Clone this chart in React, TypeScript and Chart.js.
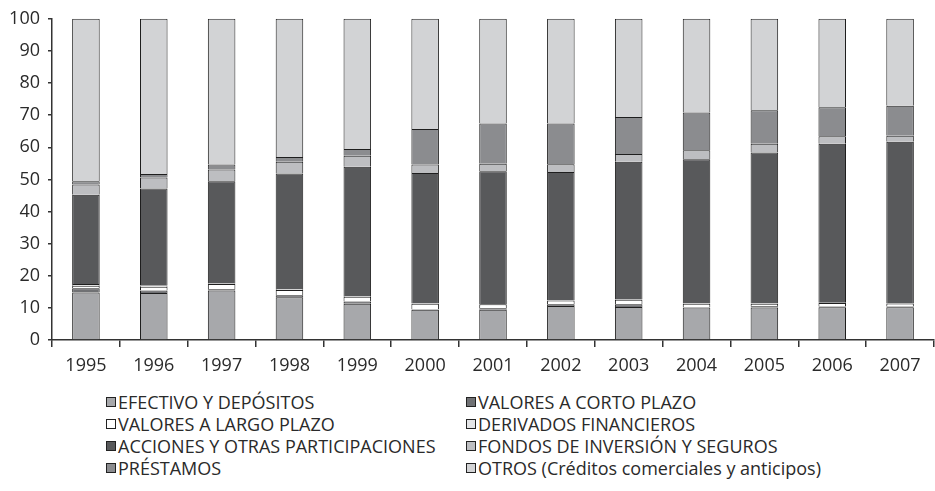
import React, { useEffect, useRef } from "react";
import { Chart, registerables } from "chart.js";

Chart.register(...registerables);

const years = ["1995", "1996", "1997", "1998", "1999", "2000", "2001", "2002", "2003", "2004", "2005", "2006", "2007"];

const efectivo = [14.8, 14.6, 15.4, 13.3, 11.3, 9.4, 9.4, 10.6, 10.3, 10.1, 10.1, 10.2, 10.2];
const valoresCorto = [1.3, 0.8, 0.4, 0.6, 0.7, 0.2, 0.5, 0.5, 0.8, 0.1, 0.4, 0.2, 0.2];
const valoresLargo = [0.8, 1.2, 1.6, 1.7, 1.5, 1.7, 1.2, 1.2, 1.4, 1.1, 0.8, 1.1, 1.0];
const derivados = [0.5, 0.4, 0.2, 0.2, 0.2, 0.1, 0.1, 0.1, 0.1, 0.1, 0.1, 0.1, 0.1];
const acciones = [27.8, 30.2, 31.8, 36.0, 40.2, 40.6, 41.3, 39.9, 42.9, 44.9, 47.0, 49.5, 50.2];
const fondos = [3.2, 3.4, 3.7, 3.7, 3.5, 2.6, 2.4, 2.4, 2.4, 2.8, 2.7, 2.3, 1.9];
const prestamos = [1.0, 1.1, 1.5, 1.5, 2.1, 11.1, 12.5, 12.7, 11.5, 11.7, 10.4, 9.1, 9.3];
const otros = [50.6, 48.3, 45.4, 43.0, 40.5, 34.3, 32.6, 32.6, 30.6, 29.2, 28.5, 27.5, 27.1];

const seriesNames = [
  "EFECTIVO Y DEPÓSITOS",
  "VALORES A CORTO PLAZO",
  "VALORES A LARGO PLAZO",
  "DERIVADOS FINANCIEROS",
  "ACCIONES Y OTRAS PARTICIPACIONES",
  "FONDOS DE INVERSIÓN Y SEGUROS",
  "PRÉSTAMOS",
  "OTROS (Créditos comerciales y anticipos)",
];
const seriesValues = [efectivo, valoresCorto, valoresLargo, derivados, acciones, fondos, prestamos, otros];
const seriesColors = ["#a7a8ab", "#707174", "#ffffff", "#e4e5e7", "#58595b", "#bdbec1", "#8b8c8f", "#d2d3d5"];

const yTicks = [0, 10, 20, 30, 40, 50, 60, 70, 80, 90, 100];

const FONT = "'Open Sans', sans-serif";

export default function App() {
  const ref = useRef<HTMLCanvasElement | null>(null);

  useEffect(() => {
    if (!ref.current) return;
    const chart = new Chart(ref.current, {
      type: "bar",
      data: {
        labels: years,
        datasets: seriesNames.map((name, i) => ({
          label: name,
          data: seriesValues[i],
          backgroundColor: seriesColors[i],
          borderColor: "#1e1e1e",
          borderWidth: 1,
          barPercentage: 0.406,
          categoryPercentage: 1,
        })),
      },
      options: {
        animation: false,
        responsive: false,
        maintainAspectRatio: false,
        layout: { padding: { top: 15, right: 1, left: 0, bottom: 0 } },
        plugins: {
          legend: { display: false },
          tooltip: { enabled: false },
        },
        scales: {
          x: {
            stacked: true,
            grid: {
              offset: true,
              drawOnChartArea: false,
              drawTicks: true,
              tickLength: 7,
              color: "#333",
              lineWidth: 1.5,
            },
            border: { display: true, color: "#333", width: 1.5 },
            ticks: {
              font: { family: FONT, size: 18 },
              color: "#2a2a2a",
              padding: 8,
              maxRotation: 0,
              autoSkip: false,
            },
            afterFit: (scale: any) => {
              scale.height = 45;
            },
          },
          y: {
            stacked: true,
            min: 0,
            max: 100,
            afterBuildTicks: (scale: any) => {
              scale.ticks = yTicks.map((v) => ({ value: v }));
            },
            grid: {
              drawOnChartArea: false,
              drawTicks: true,
              tickLength: 4,
              color: "#333",
              lineWidth: 1.5,
            },
            border: { display: true, color: "#333", width: 1.5 },
            ticks: {
              font: { family: FONT, size: 18 },
              color: "#2a2a2a",
              padding: 8,
            },
            afterFit: (scale: any) => {
              scale.width = 52;
            },
          },
        },
      },
    });
    return () => chart.destroy();
  }, []);

  const rows = [0, 1, 2, 3];
  return (
    <div style={{ position: "absolute", left: 0, top: 0, width: 935, height: 491, background: "#fff" }}>
      <canvas ref={ref} width={935} height={385} style={{ position: "absolute", left: 0, top: 0, width: 935, height: 385 }} />
      {rows.map((r) =>
        [0, 1].map((c) => {
          const i = r * 2 + c;
          return (
            <div
              key={i}
              style={{
                position: "absolute",
                left: c === 0 ? 106 : 466,
                top: 391 + r * 22,
                height: 22,
                display: "flex",
                alignItems: "center",
                fontFamily: FONT,
                fontSize: 18,
                color: "#2a2a2a",
                whiteSpace: "nowrap",
              }}
            >
              <span
                style={{
                  display: "inline-block",
                  width: 8,
                  height: 8,
                  border: "1px solid #222",
                  background: seriesColors[i],
                  marginRight: 2,
                }}
              />
              {seriesNames[i]}
            </div>
          );
        })
      )}
    </div>
  );
}
